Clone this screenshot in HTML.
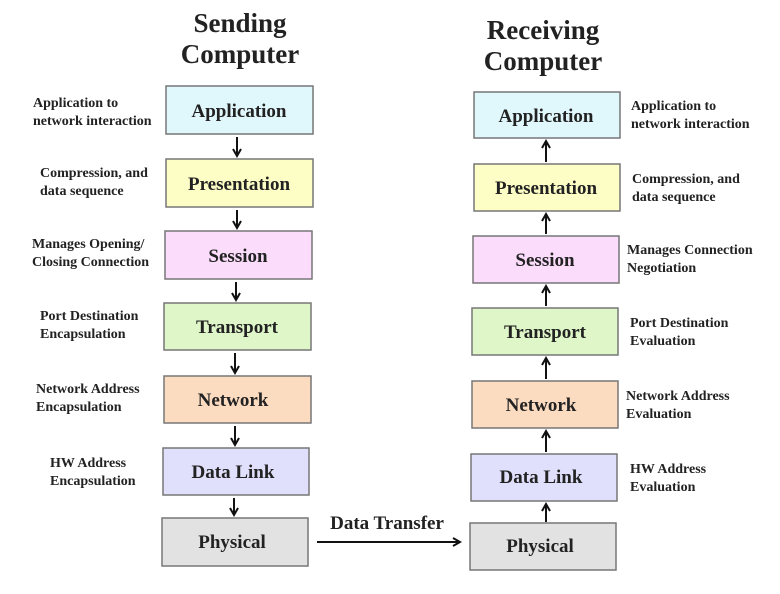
<!DOCTYPE html>
<html><head><style>body{margin:0;background:#fff}svg{display:block}text{font-family:"Liberation Serif",serif;font-weight:bold;fill:#222}</style></head><body>
<svg width="780" height="594" viewBox="0 0 780 594">
<defs><marker id="a" markerWidth="10" markerHeight="10" refX="8" refY="5" orient="auto" markerUnits="userSpaceOnUse"><path d="M1,1 L8,5 L1,9" fill="none" stroke="#111" stroke-width="2"/></marker></defs>
<g font-size="27" text-anchor="middle">
<text x="240" y="32">Sending</text><text x="240" y="63">Computer</text>
<text x="543" y="39">Receiving</text><text x="543" y="70">Computer</text>
</g>
<g stroke="#777" stroke-width="1.5">
<rect x="166" y="86" width="147" height="48" fill="#e0f7fb"/>
<rect x="166" y="159" width="147" height="48" fill="#fdfdc6"/>
<rect x="165" y="231" width="147" height="48" fill="#fbdcfb"/>
<rect x="164" y="303" width="147" height="47" fill="#def6c8"/>
<rect x="164" y="376" width="147" height="47" fill="#fcdcc0"/>
<rect x="163" y="448" width="146" height="47" fill="#e0e0fc"/>
<rect x="162" y="518" width="146" height="48" fill="#e2e2e2"/>
<rect x="474" y="92" width="146" height="46" fill="#e0f7fb"/>
<rect x="474" y="164" width="146" height="47" fill="#fdfdc6"/>
<rect x="473" y="236" width="146" height="47" fill="#fbdcfb"/>
<rect x="472" y="308" width="146" height="47" fill="#def6c8"/>
<rect x="472" y="381" width="146" height="47" fill="#fcdcc0"/>
<rect x="471" y="454" width="146" height="47" fill="#e0e0fc"/>
<rect x="470" y="523" width="146" height="47" fill="#e2e2e2"/>
</g>
<g font-size="19" text-anchor="middle">
<text x="239" y="117">Application</text><text x="239" y="190">Presentation</text><text x="238" y="262">Session</text>
<text x="237" y="333">Transport</text><text x="233" y="406">Network</text><text x="233" y="478">Data Link</text><text x="232" y="548">Physical</text>
<text x="546" y="122">Application</text><text x="546" y="194">Presentation</text><text x="545" y="266">Session</text>
<text x="545" y="338">Transport</text><text x="541" y="411">Network</text><text x="541" y="483">Data Link</text><text x="540" y="552">Physical</text>
</g>
<g stroke="#111" stroke-width="2" marker-end="url(#a)">
<line x1="237" y1="137" x2="237" y2="156"/><line x1="237" y1="210" x2="237" y2="228"/><line x1="236" y1="282" x2="236" y2="300"/>
<line x1="235" y1="353" x2="235" y2="373"/><line x1="235" y1="426" x2="235" y2="445"/><line x1="234" y1="498" x2="234" y2="515"/>
<line x1="546" y1="162" x2="546" y2="141"/><line x1="546" y1="234" x2="546" y2="214"/><line x1="546" y1="306" x2="546" y2="286"/>
<line x1="546" y1="379" x2="546" y2="358"/><line x1="546" y1="452" x2="546" y2="431"/><line x1="546" y1="522" x2="546" y2="504"/>
<line x1="317" y1="542" x2="460" y2="542"/>
</g>
<text x="387" y="529" font-size="19" text-anchor="middle">Data Transfer</text>
<g font-size="14">
<text x="33" y="107">Application to</text><text x="33" y="125">network interaction</text>
<text x="40" y="177">Compression, and</text><text x="40" y="195">data sequence</text>
<text x="32" y="248">Manages Opening/</text><text x="32" y="266">Closing Connection</text>
<text x="40" y="320">Port Destination</text><text x="40" y="338">Encapsulation</text>
<text x="36" y="393">Network Address</text><text x="36" y="411">Encapsulation</text>
<text x="50" y="467">HW Address</text><text x="50" y="485">Encapsulation</text>
<text x="631" y="110">Application to</text><text x="631" y="128">network interaction</text>
<text x="632" y="183">Compression, and</text><text x="632" y="201">data sequence</text>
<text x="627" y="254">Manages Connection</text><text x="627" y="272">Negotiation</text>
<text x="630" y="327">Port Destination</text><text x="630" y="345">Evaluation</text>
<text x="626" y="400">Network Address</text><text x="626" y="418">Evaluation</text>
<text x="630" y="473">HW Address</text><text x="630" y="491">Evaluation</text>
</g>
</svg>
</body></html>
